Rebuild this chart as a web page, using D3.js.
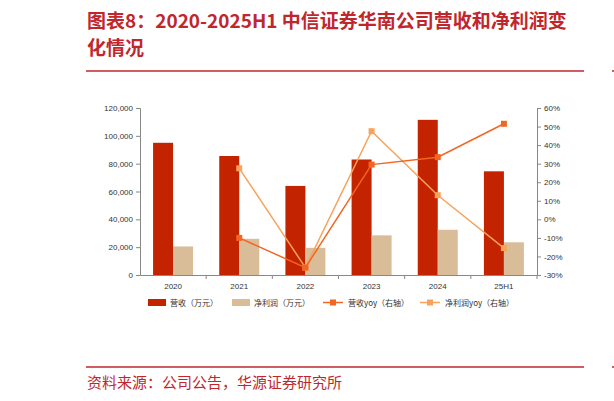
<!DOCTYPE html>
<html><head><meta charset="utf-8">
<script src="https://cdn.jsdelivr.net/npm/d3@7"></script>
<style>body{margin:0;background:#fff}svg{display:block}</style>
</head><body><svg id="c" width="614" height="401"></svg>
<script>
const categories=["2020","2021","2022","2023","2024","25H1"];
const revenue=[95000,85500,64000,83000,111500,74500];
const netProfit=[20500,26000,19500,28500,32500,23500];
const revYoy=[null,-10,-26,29.5,33.5,51.5];
const netYoy=[null,27.5,-26,47.5,13,-15.5];
const leftTicks=[0,20000,40000,60000,80000,100000,120000];
const rightTicks=[-30,-20,-10,0,10,20,30,40,50,60];
const legendLabels=["营收（万元）","净利润（万元）","营收yoy（右轴）","净利润yoy（右轴）"];

const svg=d3.select("#c");
const red="#c0272d", cRev="#c42300", cNet="#d8bd98", cRY="#f26522", cNY="#f7a35c";
const font="'Noto Sans CJK SC', sans-serif";
// title
const t=svg.append("g").attr("font-family",font).attr("font-weight","bold").attr("font-size",19).attr("fill",red);
t.append("text").attr("x",87).attr("y",28).text("图表8：2020-2025H1 中信证券华南公司营收和净利润变");
t.append("text").attr("x",87).attr("y",55).text("化情况");
svg.append("line").attr("x1",86).attr("x2",584).attr("y1",71).attr("y2",71).attr("stroke",red).attr("stroke-width",1.5);
svg.append("line").attr("x1",86).attr("x2",584).attr("y1",367).attr("y2",367).attr("stroke",red).attr("stroke-width",1.5);
svg.append("line").attr("x1",612).attr("x2",614).attr("y1",71).attr("y2",71).attr("stroke",red).attr("stroke-width",1.5);
svg.append("line").attr("x1",612).attr("x2",614).attr("y1",367).attr("y2",367).attr("stroke",red).attr("stroke-width",1.5);
svg.append("text").attr("x",87).attr("y",388).attr("font-family",font).attr("font-size",15).attr("fill",red).text("资料来源：公司公告，华源证券研究所");

const x=d3.scaleBand().domain(categories).range([140,537]);
const yL=d3.scaleLinear().domain([0,120000]).range([275,108]);
const yR=d3.scaleLinear().domain([-30,60]).range([275,108]);
const bw=20;
const g=svg.append("g");
g.selectAll(".r").data(revenue).join("rect").attr("x",(d,i)=>x(categories[i])+x.bandwidth()/2-bw).attr("width",bw).attr("y",d=>yL(d)).attr("height",d=>275-yL(d)).attr("fill",cRev);
g.selectAll(".n").data(netProfit).join("rect").attr("x",(d,i)=>x(categories[i])+x.bandwidth()/2).attr("width",bw).attr("y",d=>yL(d)).attr("height",d=>275-yL(d)).attr("fill",cNet);

const axL=svg.append("g").attr("transform","translate(140,0)").call(d3.axisLeft(yL).tickValues(leftTicks).tickFormat(d3.format(",")).tickSize(4));
const axR=svg.append("g").attr("transform","translate(537,0)").call(d3.axisRight(yR).tickValues(rightTicks).tickFormat(d=>d+"%").tickSize(4));
const axB=svg.append("g").attr("transform","translate(0,275)").call(d3.axisBottom(x).tickSize(0).tickPadding(8));
axB.selectAll(".tick").append("line").attr("x1",x.bandwidth()/2).attr("x2",x.bandwidth()/2).attr("y2",4).attr("stroke","#888");
[axL,axR,axB].forEach(a=>{a.selectAll("path,line").attr("stroke","#888");a.selectAll("text").attr("font-family","'Liberation Sans',Arial").attr("font-size",8).attr("fill","#333");});

function line(data,color){
  const pts=data.map((v,i)=>({v,i})).filter(p=>p.v!==null);
  const cx=p=>x(categories[p.i])+x.bandwidth()/2;
  svg.append("path").datum(pts).attr("fill","none").attr("stroke",color).attr("stroke-width",1.5)
   .attr("d",d3.line().x(cx).y(p=>yR(p.v)));
  svg.selectAll(null).data(pts).join("rect").attr("x",p=>cx(p)-3).attr("y",p=>yR(p.v)-3).attr("width",6).attr("height",6).attr("fill",color);
}
line(netYoy,cNY);
line(revYoy,cRY);

const lg=svg.append("g").attr("font-family",font).attr("font-size",8).attr("fill","#333");
const lx=[148,232,323,420], cols=[cRev,cNet,cRY,cNY];
legendLabels.forEach((l,i)=>{
  if(i<2) lg.append("rect").attr("x",lx[i]).attr("y",299).attr("width",18).attr("height",7).attr("fill",cols[i]);
  else{lg.append("line").attr("x1",lx[i]).attr("x2",lx[i]+20).attr("y1",302.5).attr("y2",302.5).attr("stroke",cols[i]).attr("stroke-width",1.5);
    lg.append("rect").attr("x",lx[i]+7).attr("y",299.5).attr("width",6).attr("height",6).attr("fill",cols[i]);}
  lg.append("text").attr("x",lx[i]+(i<2?22:25)).attr("y",306).text(l);
});
</script></body></html>
